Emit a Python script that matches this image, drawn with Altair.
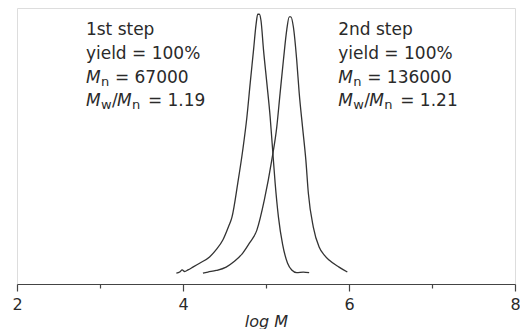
import altair as alt
import pandas as pd

# ---- data ----
step1_logM = [3.92, 3.96, 3.99, 4.02, 4.06, 4.12, 4.20, 4.32, 4.40, 4.48, 4.55, 4.59, 4.66, 4.72, 4.77, 4.81, 4.85, 4.88, 4.90, 4.92, 4.94, 4.97, 5.01, 5.05, 5.08, 5.11, 5.15, 5.20, 5.26, 5.31, 5.37, 5.45, 5.52]
step1_int = [0.000, 0.004, 0.012, 0.006, 0.012, 0.023, 0.038, 0.062, 0.090, 0.127, 0.180, 0.215, 0.346, 0.473, 0.600, 0.731, 0.858, 0.955, 0.995, 0.995, 0.970, 0.858, 0.731, 0.600, 0.473, 0.346, 0.215, 0.110, 0.038, 0.012, 0.002, 0.004, 0.002]

step2_logM = [4.24, 4.30, 4.40, 4.52, 4.62, 4.72, 4.80, 4.89, 4.98, 5.07, 5.13, 5.17, 5.21, 5.25, 5.28, 5.30, 5.33, 5.37, 5.40, 5.44, 5.48, 5.51, 5.57, 5.64, 5.70, 5.76, 5.88, 5.98]
step2_int = [0.000, 0.004, 0.010, 0.023, 0.045, 0.077, 0.115, 0.165, 0.281, 0.435, 0.562, 0.692, 0.819, 0.935, 0.985, 0.985, 0.946, 0.819, 0.692, 0.562, 0.435, 0.308, 0.177, 0.100, 0.070, 0.050, 0.023, 0.004]

x_ticks = [2, 3, 4, 5, 6, 7, 8]

block_x = [2.83, 5.87]
line_y = [0.915, 0.823, 0.731, 0.642]
step_names = ["1st step", "2nd step"]
yield_txt = ["yield = 100%", "yield = 100%"]
mn_txt = ["= 67000", "= 136000"]
pdi_txt = ["= 1.19", "= 1.21"]

FONT = "DejaVu Sans"
INK = "#2a2a2a"

curves = pd.concat([
    pd.DataFrame({"logM": step1_logM, "I": step1_int, "s": "1st"}),
    pd.DataFrame({"logM": step2_logM, "I": step2_int, "s": "2nd"}),
])

xs = alt.Scale(domain=[2, 8], nice=False, zero=False)
ys = alt.Scale(domain=[-0.042, 1.019], nice=False, zero=False)

lines = alt.Chart(curves).mark_line(
    color="#333333", strokeWidth=1.3, interpolate="monotone"
).encode(
    x=alt.X("logM:Q", scale=xs, title="log M",
            axis=alt.Axis(values=x_ticks, grid=False, format="d",
                          labelExpr="datum.value % 2 === 0 ? datum.label : ''",
                          tickSize={"condition": {"test": "datum.value % 2 === 0", "value": 7}, "value": 4},
                          tickColor="#444444", tickWidth=1.2,
                          domainColor="#444444", domainWidth=1.2,
                          labelFont=FONT, labelFontSize=16, labelColor=INK,
                          labelPadding=5, labelFlush=False,
                          titleFont=FONT, titleFontSize=16, titleFontStyle="italic",
                          titleFontWeight="normal", titleColor=INK, titlePadding=1)),
    y=alt.Y("I:Q", scale=ys, axis=None),
    detail="s:N",
)


def piece(texts, li, dx, dy, size, italic):
    df = pd.DataFrame({"x": block_x, "y": [line_y[li]] * 2, "t": texts})
    kw = dict(align="left", baseline="alphabetic", dx=dx, dy=dy, fontSize=size,
              font=FONT, color=INK)
    if italic:
        kw["fontStyle"] = "italic"
    return alt.Chart(df).mark_text(**kw).encode(
        x=alt.X("x:Q", scale=xs), y=alt.Y("y:Q", scale=ys), text="t:N")


layers = [
    lines,
    piece(step_names, 0, 0, 0, 17, False),
    piece(yield_txt, 1, 0, 0, 17, False),
    piece(["M", "M"], 2, 0, 0, 17, True),
    piece(["n", "n"], 2, 15, 3, 13, False),
    piece(mn_txt, 2, 29, 0, 17, False),
    piece(["M", "M"], 3, 0, 0, 17, True),
    piece(["w", "w"], 3, 15, 3, 13, False),
    piece(["/", "/"], 3, 26, 0, 17, False),
    piece(["M", "M"], 3, 31, 0, 17, True),
    piece(["n", "n"], 3, 46, 3, 13, False),
    piece(pdi_txt, 3, 62, 0, 17, False),
]

chart = alt.layer(*layers).properties(
    width=498, height=276,
    autosize=alt.AutoSizeParams(type="none"),
    padding={"left": 9, "top": 0, "right": 5, "bottom": 45},
).configure_view(stroke=None).configure(background="white")

chart.save("out.html", embed_options={"renderer": "svg", "actions": False})
